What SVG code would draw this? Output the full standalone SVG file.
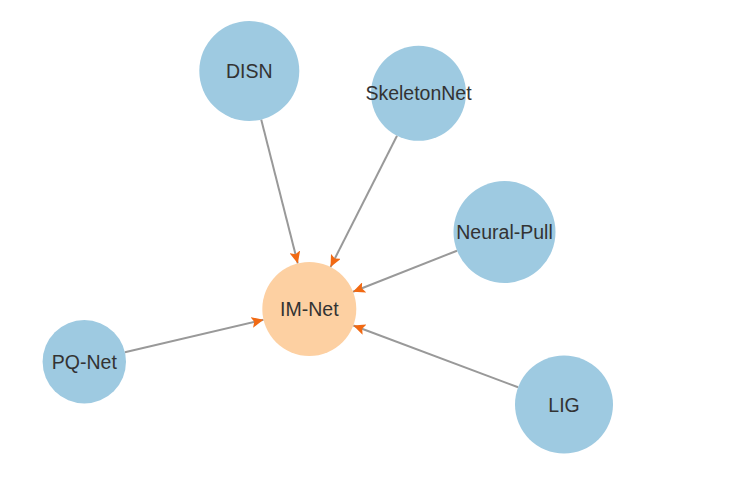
<svg xmlns="http://www.w3.org/2000/svg" width="742" height="482" viewBox="0 0 742 482">
<style>
.edge{stroke:#999999;stroke-width:2;fill:none;marker-end:url(#arr)}
.src circle{fill:#9ecae1}
.tgt circle{fill:#fdd0a2}
text{font-family:"Liberation Sans",Arial,sans-serif;font-size:19.5px;fill:#333333;text-anchor:middle;dominant-baseline:central}
</style>
<defs>
<marker id="arr" markerUnits="userSpaceOnUse" markerWidth="13" markerHeight="11" refX="12" refY="5.5" orient="auto">
<path d="M0,0 L12,5.5 L0,11 L2.5,5.5 z" fill="#f16913"/>
</marker>
</defs>
<rect width="742" height="482" fill="#ffffff"/>
<g id="edges">
<line class="edge" x1="261.2" y1="119.5" x2="297.8" y2="263.4"/>
<line class="edge" x1="397.0" y1="135.7" x2="330.5" y2="267.1"/>
<line class="edge" x1="457.0" y1="250.7" x2="353.0" y2="291.8"/>
<line class="edge" x1="124.9" y1="352.2" x2="263.5" y2="319.7"/>
<line class="edge" x1="518.1" y1="387.3" x2="353.3" y2="325.5"/>
</g>
<g id="node-DISN" class="src"><circle cx="249.3" cy="71" r="50"/><text x="249.3" y="71">DISN</text></g>
<g id="node-SkeletonNet" class="src"><circle cx="418.5" cy="93.3" r="47.5"/><text x="418.5" y="93.3">SkeletonNet</text></g>
<g id="node-NeuralPull" class="src"><circle cx="504.5" cy="232" r="51"/><text x="504.5" y="232">Neural-Pull</text></g>
<g id="node-PQNet" class="src"><circle cx="84.3" cy="361.7" r="41.7"/><text x="84.3" y="361.7">PQ-Net</text></g>
<g id="node-LIG" class="src"><circle cx="564" cy="404.5" r="49"/><text x="564" y="404.5">LIG</text></g>
<g id="node-IMNet" class="tgt"><circle cx="309.3" cy="309" r="47"/><text x="309.3" y="309">IM-Net</text></g>
</svg>
